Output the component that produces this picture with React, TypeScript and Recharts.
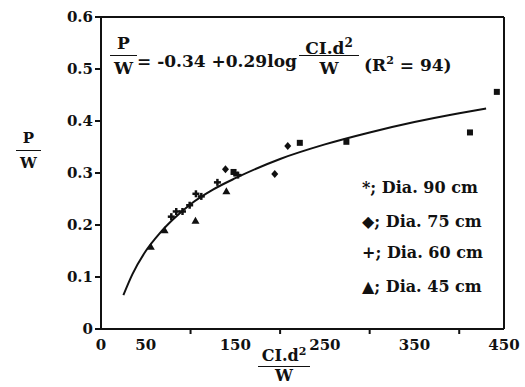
import React from "react";
import {
  ComposedChart,
  Line,
  Scatter,
  XAxis,
  YAxis,
  ReferenceLine,
} from "recharts";

// fitted curve
const curveX = [25, 35, 50, 65, 80, 100, 125, 150, 200, 250, 300, 350, 400, 430];
const curveY = [0.065, 0.105, 0.15, 0.183, 0.21, 0.24, 0.268, 0.29, 0.327, 0.355, 0.378, 0.398, 0.415, 0.424];

// Dia. 45 cm (triangles)
const triX = [55.6, 71, 105.5, 140];
const triY = [0.158, 0.19, 0.208, 0.265];

// Dia. 75 cm (diamonds)
const diaX = [139, 194, 208.5];
const diaY = [0.307, 0.298, 0.352];

// Dia. 90 cm (squares / stars)
const sqX = [148, 222, 274, 412, 442];
const sqY = [0.302, 0.358, 0.36, 0.378, 0.456];

// Dia. 60 cm (plus)
const plusX = [78.5, 84, 91, 99, 106, 112, 130, 149, 153];
const plusY = [0.216, 0.226, 0.226, 0.238, 0.26, 0.255, 0.282, 0.3, 0.296];

const yTicks = [0, 0.1, 0.2, 0.3, 0.4, 0.5, 0.6];
const xTicks = [0, 50, 100, 150, 200, 250, 300, 350, 400, 450];
const xLabelled = [0, 50, 150, 250, 350, 450];
const xMarked = [100, 200, 300, 400];

const legendItems = ["*; Dia. 90 cm", "\u25C6; Dia. 75 cm", "+; Dia. 60 cm", "\u25B2; Dia. 45 cm"];

const zip = (xs: number[], ys: number[]) => xs.map((x, i) => ({ x, y: ys[i] }));

const FONT = "'DejaVu Serif', 'Liberation Serif', serif";
const INK = "#111";

const Triangle = (p: any) => (
  <polygon
    points={`${p.cx},${p.cy - 4} ${p.cx - 4},${p.cy + 3} ${p.cx + 4},${p.cy + 3}`}
    fill={INK}
  />
);
const Diamond = (p: any) => (
  <polygon
    points={`${p.cx},${p.cy - 4} ${p.cx + 3.5},${p.cy} ${p.cx},${p.cy + 4} ${p.cx - 3.5},${p.cy}`}
    fill={INK}
  />
);
const Square = (p: any) => (
  <rect x={p.cx - 3} y={p.cy - 3} width={6} height={6} fill={INK} />
);
const Plus = (p: any) => (
  <g stroke={INK} strokeWidth={2.5}>
    <line x1={p.cx - 3.5} y1={p.cy} x2={p.cx + 3.5} y2={p.cy} />
    <line x1={p.cx} y1={p.cy - 3.5} x2={p.cx} y2={p.cy + 3.5} />
  </g>
);

const XTick = (props: any) => {
  const { x, y, payload } = props;
  const v = payload.value;
  return (
    <g>
      {xMarked.includes(v) && (
        <line x1={x} y1={y - 8} x2={x} y2={y - 3} stroke={INK} strokeWidth={2} />
      )}
      {xLabelled.includes(v) && (
        <text
          x={x}
          y={y + 13}
          textAnchor="middle"
          fontFamily={FONT}
          fontWeight={700}
          fontSize={15}
          fill={INK}
        >
          {v}
        </text>
      )}
    </g>
  );
};

const Frac = ({ left, top, width, num, den, lh = 24, dlh = 24, fs = 15 }: any) => (
  <div
    style={{
      position: "absolute",
      left,
      top,
      width,
      textAlign: "center",
      fontFamily: FONT,
      fontWeight: 700,
      fontSize: fs,
      color: INK,
    }}
  >
    <div style={{ lineHeight: `${lh}px`, height: lh, whiteSpace: "nowrap" }}>{num}</div>
    <div style={{ borderTop: `1.5px solid ${INK}`, lineHeight: `${dlh}px` }}>{den}</div>
  </div>
);

const txt: React.CSSProperties = {
  position: "absolute",
  fontFamily: FONT,
  fontWeight: 700,
  fontSize: 16,
  color: INK,
  lineHeight: "20px",
  whiteSpace: "nowrap",
};

export default function App() {
  return (
    <div
      style={{
        position: "absolute",
        left: 0,
        top: 0,
        width: 525,
        height: 387,
        background: "#fff",
        overflow: "hidden",
      }}
    >
      <ComposedChart
        width={525}
        height={387}
        margin={{ top: 17, right: 21, left: 61, bottom: 28 }}
      >
        <XAxis
          type="number"
          dataKey="x"
          domain={[0, 450]}
          ticks={xTicks}
          tick={<XTick />}
          tickLine={false}
          axisLine={{ stroke: INK, strokeWidth: 2 }}
          height={30}
          interval={0}
          allowDataOverflow
        />
        <YAxis
          type="number"
          dataKey="y"
          domain={[0, 0.6]}
          ticks={yTicks}
          width={40}
          interval={0}
          tickFormatter={(v: number) => (v === 0 ? "0" : v.toFixed(1))}
          tick={{ fontFamily: FONT, fontWeight: 700, fontSize: 15, fill: INK }}
          tickLine={{ stroke: INK, strokeWidth: 2 }}
          tickSize={6}
          axisLine={{ stroke: INK, strokeWidth: 2 }}
        />
        <ReferenceLine y={0.6} stroke={INK} strokeWidth={2} />
        <ReferenceLine x={450} stroke={INK} strokeWidth={2} />
        <Line
          data={zip(curveX, curveY)}
          dataKey="y"
          type="monotone"
          stroke={INK}
          strokeWidth={2}
          dot={false}
          activeDot={false}
          isAnimationActive={false}
        />
        <Scatter data={zip(triX, triY)} shape={<Triangle />} isAnimationActive={false} />
        <Scatter data={zip(diaX, diaY)} shape={<Diamond />} isAnimationActive={false} />
        <Scatter data={zip(sqX, sqY)} shape={<Square />} isAnimationActive={false} />
        <Scatter data={zip(plusX, plusY)} shape={<Plus />} isAnimationActive={false} />
      </ComposedChart>

      {/* equation */}
      <Frac left={110} top={31} width={27} fs={17} num="P" den="W" />
      <div style={{ ...txt, fontSize: 17, left: 137, top: 51 }}>= -0.34 +0.29log</div>
      <Frac
        left={299}
        top={31}
        width={60}
        fs={17}
        num={
          <span>
            CI.d<sup style={{ fontSize: 12 }}>2</sup>
          </span>
        }
        den="W"
      />
      <div style={{ ...txt, fontSize: 17, left: 364, top: 51 }}>
        (R<sup style={{ fontSize: 11 }}>2</sup> = 94)
      </div>

      {/* axis titles */}
      <Frac left={16} top={126} width={25} num="P" den="W" />
      <Frac
        left={258}
        top={338}
        width={52}
        lh={28}
        dlh={18}
        fs={16}
        num={
          <span>
            CI.d<sup style={{ fontSize: 11 }}>2</sup>
          </span>
        }
        den="W"
      />

      {/* legend */}
      {legendItems.map((t, i) => (
        <div key={t} style={{ ...txt, left: 362, top: [178, 212, 243, 277][i] }}>
          {t}
        </div>
      ))}
    </div>
  );
}
